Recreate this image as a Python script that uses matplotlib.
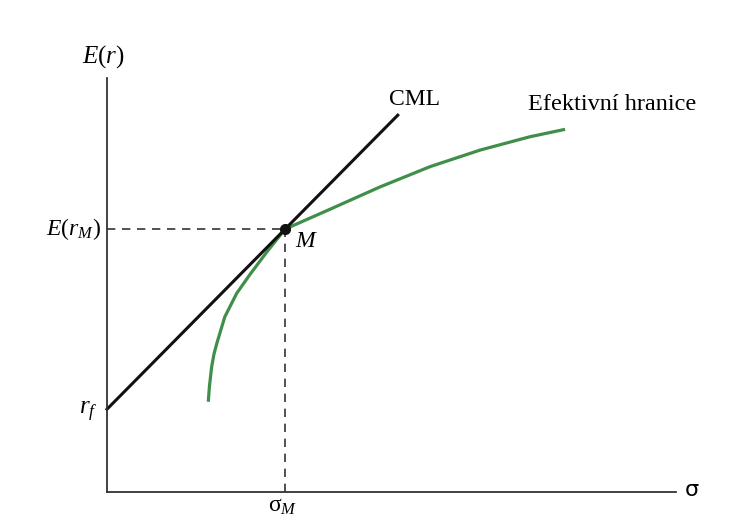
import matplotlib
matplotlib.use("Agg")
import matplotlib.pyplot as plt

plt.rcParams.update({
    'font.family': 'Liberation Serif',
    'mathtext.fontset': 'custom',
    'mathtext.rm': 'Liberation Serif',
    'mathtext.it': 'Liberation Serif:italic',
})

# capital market line: risk free rate and market portfolio
rf = 2.0
sigma_m = 3.13
er_m = 6.35
cml_x = [0.0, 5.11]

# efficient frontier
front_x = [1.78, 1.80, 1.84, 1.88, 1.93, 2.07, 2.28, 2.51, 2.81, 3.13,
           3.92, 4.80, 5.68, 6.56, 7.43, 8.05]
front_y = [2.18, 2.55, 3.03, 3.33, 3.59, 4.23, 4.80, 5.25, 5.80, 6.35,
           6.83, 7.37, 7.86, 8.26, 8.58, 8.76]

slope = (er_m - rf) / sigma_m
cml_y = [rf + slope * x for x in cml_x]

fig = plt.figure(figsize=(7.52, 5.21), dpi=100)
ax = fig.add_axes([107 / 752, 29 / 521, 569 / 752, 414 / 521])
ax.set_xlim(0, 10)
ax.set_ylim(0, 10)
ax.set_xticks([])
ax.set_yticks([])
for s in ['top', 'right']:
    ax.spines[s].set_visible(False)
for s in ['left', 'bottom']:
    ax.spines[s].set_linewidth(1.3)
    ax.spines[s].set_color('#333333')

green = '#3f8f4a'
ax.plot(front_x, front_y, color=green, lw=2.3, solid_capstyle='butt',
        solid_joinstyle='round', clip_on=False)
ax.plot(cml_x, cml_y, color='#111111', lw=2.2, clip_on=False)

# dashed guides to M
ax.plot([0, sigma_m], [er_m, er_m], color='#333333', lw=1.2, ls=(0, (5, 4)))
ax.plot([sigma_m, sigma_m], [0, er_m], color='#333333', lw=1.2, ls=(0, (5, 4)))
ax.plot([sigma_m], [er_m], 'o', color='#111111', ms=7, zorder=5)

ax.text(-0.07, 10.51, r'$E(r)$', fontsize=18, ha='center', va='center', clip_on=False)
ax.text(-0.10, er_m, r'$E(r_M)$', fontsize=17, ha='right', va='center', clip_on=False)
ax.text(-0.16, rf - 0.07, r'$r_f$', fontsize=18, ha='right', va='center', clip_on=False)
ax.text(sigma_m - 0.05, -0.1, r'$\mathrm{\sigma}_M$', fontsize=17, ha='center', va='top', clip_on=False)
ax.text(10.28, 0.05, 'σ', fontsize=16, family='DejaVu Sans', ha='center', va='center', clip_on=False)
ax.text(3.30, er_m - 0.3, r'$M$', fontsize=17, ha='left', va='center')
ax.text(5.40, 9.47, 'CML', fontsize=17, ha='center', va='center', clip_on=False)
ax.text(7.40, 9.37, 'Efektivní hranice', fontsize=17.5, ha='left', va='center', clip_on=False)

fig.savefig('out.png', dpi=100)
